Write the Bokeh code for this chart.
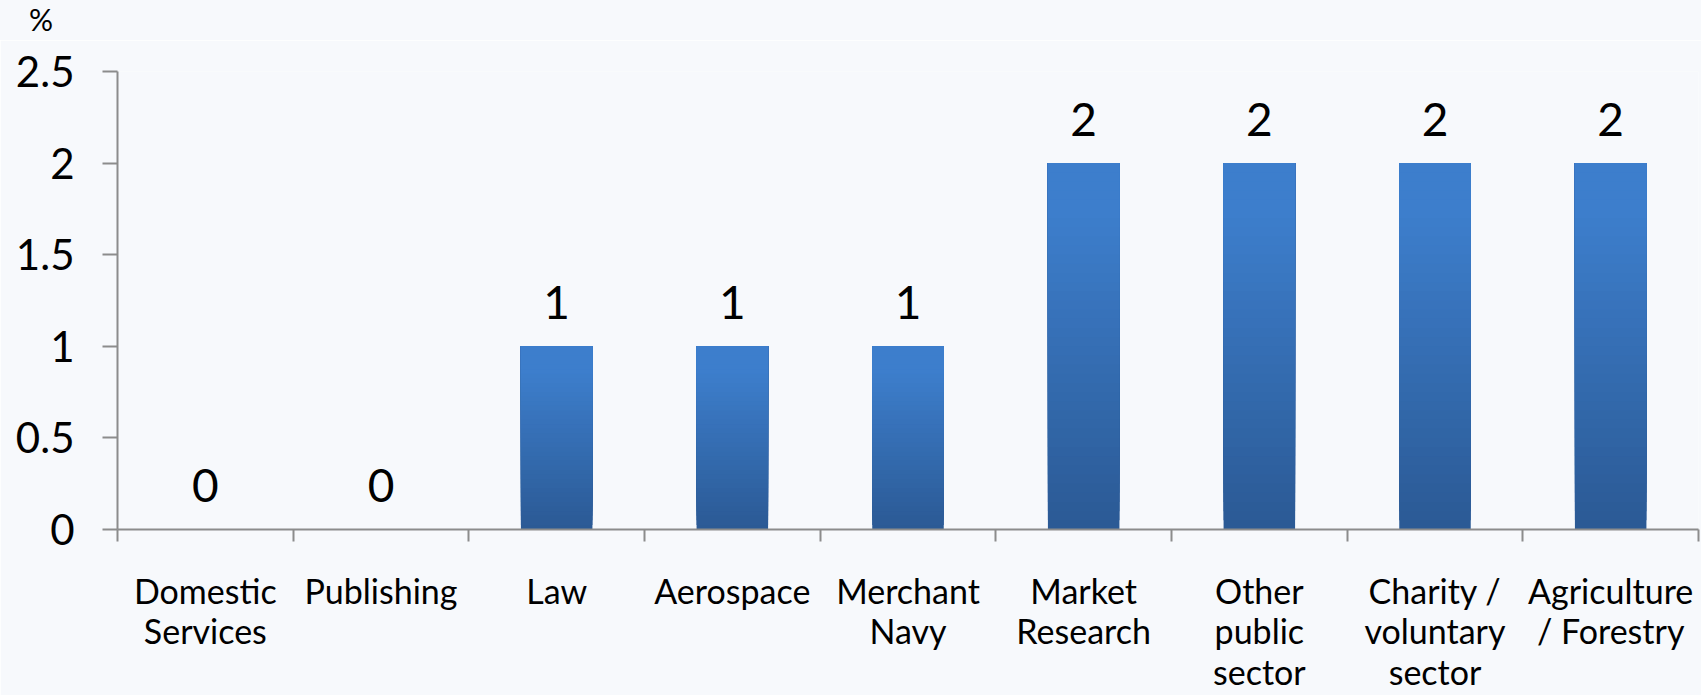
import numpy as np
from bokeh.plotting import figure
from bokeh.layouts import column
from bokeh.models import Range1d, FixedTicker, ColumnDataSource, Div
from bokeh.core.properties import value
from bokeh.embed import file_html
from bokeh.resources import INLINE

# ---- data ----
categories = ["Domestic Services", "Publishing", "Law", "Aerospace", "Merchant Navy",
              "Market Research", "Other public sector", "Charity / voluntary sector",
              "Agriculture / Forestry"]
tick_labels = ["Domestic\nServices", "Publishing", "Law", "Aerospace", "Merchant\nNavy",
               "Market\nResearch", "Other\npublic\nsector", "Charity /\nvoluntary\nsector",
               "Agriculture\n/ Forestry"]
values = [0, 0, 1, 1, 1, 2, 2, 2, 2]
y_ticks = [0, 0.5, 1, 1.5, 2, 2.5]
y_tick_labels = ["0", "0.5", "1", "1.5", "2", "2.5"]
unit_label = "%"

FONT = "Lato"
BG = "#F7F9FC"
AXIS = "#8C8C8C"
TOP = np.array([61, 126, 204])
BOT = np.array([43, 90, 149])

n = len(categories)
centers = [i + 0.5 for i in range(n)]

HEAD = 40  # height of the unit-label strip above the chart

unit_html = ('<div style="background:%s;width:1701px;height:%dpx;margin:0;'
             'padding:4px 0 0 29px;box-sizing:border-box;font-family:%s;'
             'font-size:30px;line-height:30px;color:#000000;">%s</div>'
             % (BG, HEAD, FONT, unit_label))
unit = Div(text=unit_html, width=1701, height=HEAD, margin=0,
           styles={"background-color": BG})

p = figure(width=1701, height=695 - HEAD, output_backend="svg", toolbar_location=None,
           x_range=Range1d(0, n), y_range=Range1d(0, 2.5),
           frame_width=1581, frame_height=458,
           min_border_left=117, min_border_right=3, min_border_top=71 - HEAD,
           min_border_bottom=166, margin=0)
p.background_fill_color = BG
p.border_fill_color = BG
p.outline_line_color = None
p.xgrid.visible = False
p.ygrid.visible = False

# gradient bars: stacked slices drawn bottom-up, each reaching to the bar top
N = 40
xs, bottoms, tops, colors = [], [], [], []
for c, v in zip(centers, values):
    if v <= 0:
        continue
    for k in range(N):
        f = k / N
        t = min(f / 0.85, 1.0)
        col = BOT + (TOP - BOT) * t
        xs.append(c)
        bottoms.append(v * f)
        tops.append(v)
        colors.append("#%02x%02x%02x" % tuple(int(round(q)) for q in col))
src = ColumnDataSource(dict(x=xs, bottom=bottoms, top=tops, color=colors))
p.vbar(x="x", bottom="bottom", top="top", width=0.407, fill_color="color",
       line_color=None, source=src)

# value labels
lab_src = ColumnDataSource(dict(x=centers, y=values, t=[str(v) for v in values]))
p.text(x="x", y="y", text="t", source=lab_src, text_font=value(FONT),
       text_font_size="46px", text_color="#000000", text_align="center",
       text_baseline="alphabetic", y_offset=-44)

# axes
xa = p.xaxis[0]
xa.ticker = FixedTicker(ticks=centers, minor_ticks=list(range(n + 1)))
xa.major_label_overrides = {c: t for c, t in zip(centers, tick_labels)}
xa.major_tick_out = 0
xa.major_tick_in = 0
xa.minor_tick_out = 12
xa.minor_tick_in = 0
xa.minor_tick_line_color = AXIS
xa.minor_tick_line_width = 2
xa.axis_line_color = AXIS
xa.axis_line_width = 2
xa.major_label_text_font = FONT
xa.major_label_text_font_size = "34px"
xa.major_label_text_color = "#000000"
xa.major_label_text_line_height = 0.99
xa.major_label_standoff = 28

ya = p.yaxis[0]
ya.ticker = FixedTicker(ticks=y_ticks, minor_ticks=[])
ya.major_label_overrides = {t: l for t, l in zip(y_ticks, y_tick_labels)}
ya.major_tick_out = 15
ya.major_tick_in = 0
ya.major_tick_line_color = AXIS
ya.major_tick_line_width = 2
ya.axis_line_color = AXIS
ya.axis_line_width = 2
ya.minor_tick_line_color = None
ya.major_label_text_font = FONT
ya.major_label_text_font_size = "42px"
ya.major_label_text_color = "#000000"
ya.major_label_standoff = 28

layout = column(unit, p, spacing=0, margin=0)
open("out.html", "w").write(file_html(layout, INLINE))
